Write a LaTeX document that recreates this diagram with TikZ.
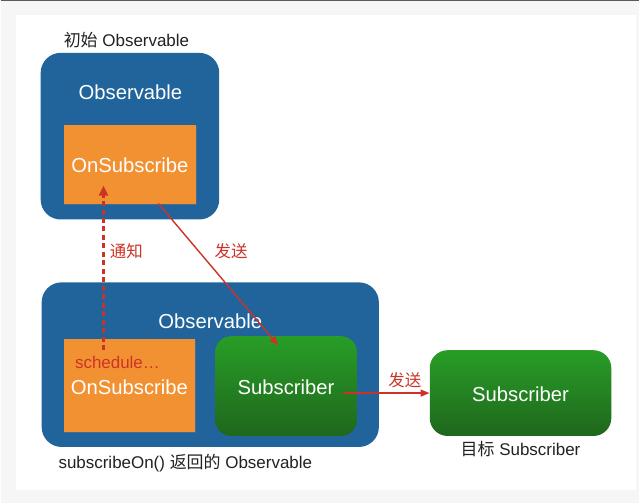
\documentclass[tikz,border=0pt]{standalone}
\usepackage{fontspec}
\setmainfont{Liberation Sans}
\newfontfamily\cjk{Noto Sans CJK SC}
\usetikzlibrary{arrows.meta,shadows}
\definecolor{obsblue}{HTML}{21649B}
\definecolor{onorange}{HTML}{F29131}
\definecolor{subtop}{HTML}{289D27}
\definecolor{subbot}{HTML}{1F671C}
\definecolor{flowred}{HTML}{CC3328}
\definecolor{labelgray}{HTML}{222222}
\definecolor{framegray}{HTML}{F6F6F6}
\tikzset{
  obsbox/.style={draw=none, fill=obsblue, rounded corners=20pt, inner sep=0pt},
  onbox/.style={draw=none, fill=onorange, inner sep=0pt,
    drop shadow={opacity=0.35, shadow xshift=0.6pt, shadow yshift=-1.2pt}},
  subbox/.style={draw=none, top color=subtop, bottom color=subbot, rounded corners=16pt, inner sep=0pt},
  boxtext/.style={text=white, font=\fontsize{20.3}{24}\selectfont},
  caption/.style={text=labelgray, font=\fontsize{17}{20}\selectfont},
  flowlabel/.style={text=flowred, font=\cjk\fontsize{16.5}{19}\selectfont},
  flow/.style={draw=flowred, line width=1.4pt, -{Triangle[length=9pt,width=7pt]}},
  notify/.style={draw=flowred, line width=2.2pt, dash pattern=on 5pt off 3.5pt, -{Triangle[length=10pt,width=9pt]}},
}
\begin{document}
\begin{tikzpicture}[x=1pt,y=-1pt]
  % frame
  \fill[framegray] (0,0) rectangle (640,504);
  \fill[white] (15,15) rectangle (637,491);
  \draw[line width=1.5pt, gray!70!black] (0,0.75) -- (640,0.75);
  \useasboundingbox (0,0) rectangle (640,504);

  % initial Observable
  \node[caption] (capTop) at (126,40) {{\cjk 初始} Observable};
  \node[obsbox, minimum width=179pt, minimum height=167pt] (obsTop) at (129.5,136.5) {};
  \node[boxtext] (obsTopTitle) at (130,92) {Observable};
  \node[onbox, minimum width=133pt, minimum height=79pt] (onTop) at (129.5,164.5) {};
  \node[boxtext] (onTopText) at (129.5,166) {OnSubscribe};

  % Observable returned by subscribeOn()
  \node[obsbox, minimum width=338pt, minimum height=165pt] (obsBot) at (210,365.5) {};
  \node[boxtext] (obsBotTitle) at (210,322) {Observable};
  \node[onbox, minimum width=132pt, minimum height=93pt] (onBot) at (129,386.5) {};
  \node[text=flowred, font=\fontsize{17}{20}\selectfont] (sched) at (117,363) {schedule\ldots};
  \node[boxtext] (onBotText) at (129,388) {OnSubscribe};
  \node[subbox, minimum width=142pt, minimum height=100pt] (subMid) at (286,387) {};
  \node[boxtext] (subMidText) at (286,388) {Subscriber};
  \node[caption] (capBot) at (185,464) {subscribeOn() {\cjk 返回的} Observable};

  % target Subscriber
  \node[subbox, minimum width=182pt, minimum height=86pt, rounded corners=18pt] (subRight) at (521,394) {};
  \node[boxtext] (subRightText) at (521,395) {Subscriber};
  \node[caption] (capRight) at (521,450) {{\cjk 目标} Subscriber};

  % connectors
  \coordinate (notifyFrom) at (103,351);
  \coordinate (notifyTo) at (103,186);
  \draw[notify] (notifyFrom) -- (notifyTo);
  \node[flowlabel] (notifyLabel) at (126,252) {通知};

  \coordinate (sendFrom) at (158,204);
  \coordinate (sendTo) at (278,346);
  \draw[flow] (sendFrom) -- (sendTo);
  \node[flowlabel] (sendLabel) at (231,252) {发送};

  \coordinate (fwdFrom) at (343,394);
  \draw[flow] (fwdFrom) -- (subRight.west);
  \node[flowlabel] (fwdLabel) at (405,381) {发送};
\end{tikzpicture}
\end{document}
